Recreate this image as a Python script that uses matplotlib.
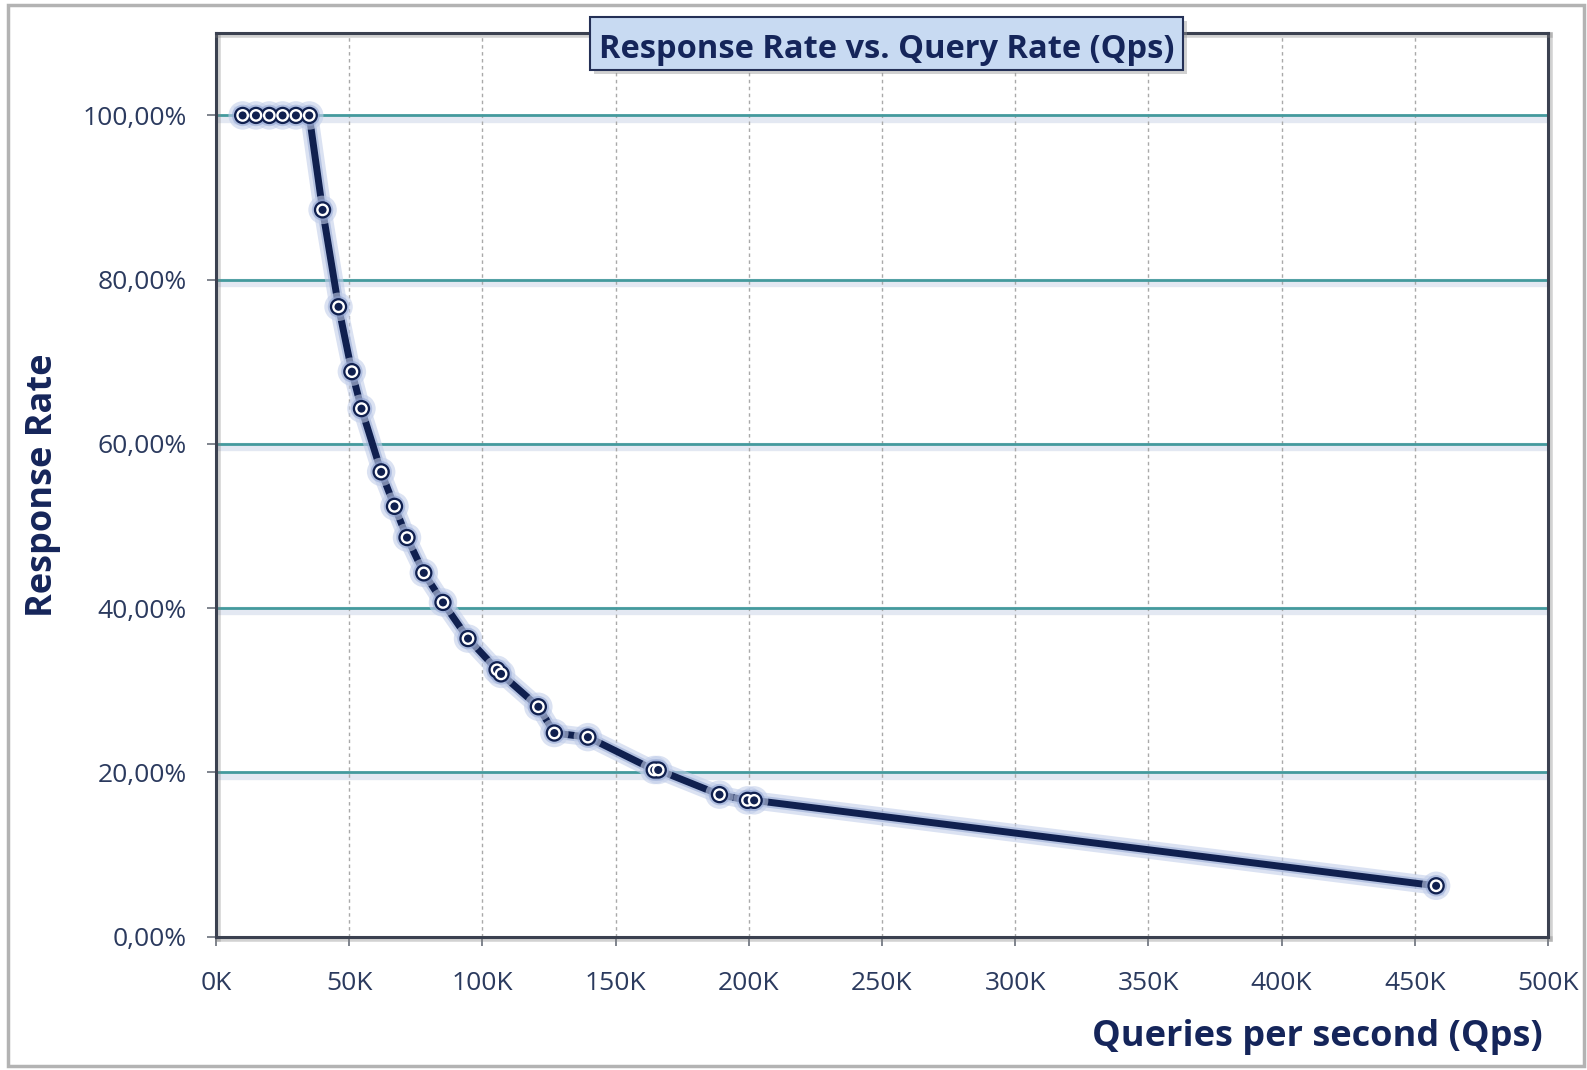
import numpy as np
import matplotlib
matplotlib.use("Agg")
import matplotlib.pyplot as plt
import matplotlib.patheffects as pe
from matplotlib.patches import Rectangle
from matplotlib.ticker import FuncFormatter

plt.rcParams["font.family"] = ["Open Sans", "DejaVu Sans"]

# queries per second (K) and response rate (fraction)
QPS_K = [10, 15, 20, 25, 30, 35, 40, 46, 51, 54.6, 62, 67, 71.7, 78, 85.2,
         94.6, 105.5, 107, 121, 127, 139.6, 164.5, 166, 189, 199.5, 202, 458]
RESPONSE = [1.0, 1.0, 1.0, 1.0, 1.0, 1.0, 0.885, 0.767, 0.688, 0.643, 0.566,
            0.524, 0.486, 0.443, 0.407, 0.363, 0.325, 0.32, 0.28, 0.248,
            0.243, 0.203, 0.203, 0.173, 0.166, 0.166, 0.062]

TITLE = "Response Rate vs. Query Rate (Qps)"
XLABEL = "Queries per second (Qps)"
YLABEL = "Response Rate"

NAVY = "#10204f"
TEXT = "#15255a"
TICKTEXT = "#2b3a5e"

W, H = 1587, 1070
fig = plt.figure(figsize=(W / 100, H / 100), dpi=100)
ax = fig.add_axes([216 / W, 1 - 936.7 / H, (1548 - 216) / W, (936.7 - 33.3) / H])

ax.set_xlim(0, 500)
ax.set_ylim(0, 1.1)
ax.set_xticks(np.arange(0, 501, 50))
ax.set_yticks(np.arange(0, 1.01, 0.2))
ax.xaxis.set_major_formatter(FuncFormatter(lambda v, p: f"{int(v)}K"))
ax.yaxis.set_major_formatter(
    FuncFormatter(lambda v, p: f"{v * 100:.2f}%".replace(".", ",")))

# grid: teal horizontal with soft shadow, dotted grey vertical
for y in np.arange(0.2, 1.01, 0.2):
    ax.axhline(y - 0.004, color="#e3e8f2", lw=6, zorder=1)
    ax.axhline(y, color="#449a9d", lw=2.0, zorder=2)
for x in np.arange(50, 500, 50):
    ax.axvline(x, color="#a9a9a9", lw=1.0, ls=(0, (2.5, 2.5)), zorder=1)

ax.plot(QPS_K, RESPONSE, color=NAVY, lw=3.6, marker="o", ms=7.5,
        mfc=NAVY, mec="white", mew=1.7, zorder=5,
        path_effects=[pe.Stroke(linewidth=13, foreground="#c3cfea", alpha=0.6),
                      pe.Stroke(linewidth=8, foreground="#8fa3d2", alpha=0.5),
                      pe.Stroke(linewidth=5, foreground=NAVY),
                      pe.Normal()])

for s in ax.spines.values():
    s.set_color("#3b4150")
    s.set_linewidth(2.2)
    s.set_path_effects([pe.SimpleLineShadow(offset=(1.5, -1.5), shadow_color="#808080",
                                            alpha=0.35, linewidth=4), pe.Normal()])

ax.tick_params(axis="both", colors="#6a6f7a", length=6.5, width=1.2,
               direction="out", labelcolor=TICKTEXT, labelsize=19)
ax.tick_params(axis="x", pad=18.5)
ax.tick_params(axis="y", pad=14.5)

fig.text(51.7 / W, 1 - 485 / H, YLABEL, rotation=90, rotation_mode="anchor",
         ha="center", va="baseline", fontsize=26, fontweight="bold", color=TEXT)
fig.text(1542.5 / W, 1 - 1046.4 / H, XLABEL, ha="right", va="baseline",
         fontsize=26, fontweight="bold", color=TEXT)

# title box with drop shadow
bx0, bx1, by0, by1 = 590, 1183, 16.7, 70
fig.patches.append(Rectangle((bx0 / W + 4 / W, 1 - (by1 + 4) / H), (bx1 - bx0) / W,
                             (by1 - by0) / H, transform=fig.transFigure,
                             fc="#9a9a9a", ec="none", alpha=0.45, zorder=20))
fig.patches.append(Rectangle((bx0 / W, 1 - by1 / H), (bx1 - bx0) / W, (by1 - by0) / H,
                             transform=fig.transFigure, fc="#c8daf2", ec="#243056",
                             lw=1.5, zorder=21))
fig.text((bx0 + bx1) / 2 / W, 1 - 58.3 / H, TITLE, ha="center", va="baseline",
         fontsize=23.5, fontweight="bold", color=TEXT, zorder=22)

# outer chart border
fig.patches.append(Rectangle((8 / W, 4 / H), 1576 / W, 1061 / H, transform=fig.transFigure,
                             fill=False, ec="#b3b3b3", lw=2.5, zorder=0))

fig.savefig("out.png", dpi=100)
